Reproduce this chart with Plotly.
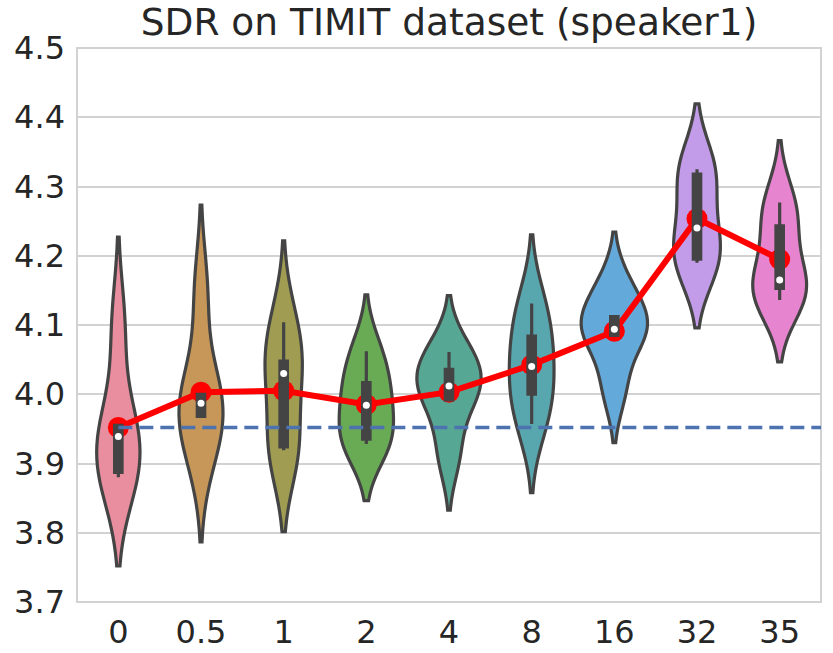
import colorsys
import numpy as np
import plotly.graph_objects as go

# ---------------- data (SDR per run, 5 runs per setting) ----------------
categories = ["0", "0.5", "1", "2", "4", "8", "16", "32", "35"]

sdr_0 = [3.880, 3.887, 3.939, 3.955, 4.099]
sdr_0_5 = [3.913, 3.968, 3.987, 4.000, 4.147]
sdr_1 = [3.919, 3.924, 4.030, 4.048, 4.104]
sdr_2 = [3.928, 3.935, 3.984, 4.017, 4.062]
sdr_4 = [3.914, 3.992, 4.012, 4.036, 4.061]
sdr_8 = [3.957, 4.000, 4.040, 4.084, 4.131]
sdr_16 = [4.008, 4.085, 4.094, 4.112, 4.156]
sdr_32 = [4.190, 4.195, 4.240, 4.318, 4.325]
sdr_35 = [4.136, 4.153, 4.165, 4.243, 4.277]

baseline_sdr = 3.952

samples = [sdr_0, sdr_0_5, sdr_1, sdr_2, sdr_4, sdr_8, sdr_16, sdr_32, sdr_35]

# ---------------- style ----------------
husl9 = ["#f77189", "#d58c32", "#a4a031", "#50b131", "#34ae91",
         "#37abb5", "#3ba3ec", "#bb83f4", "#f564d4"]


def soften(hex_color, prop=0.75, white=0.10):
    r, g, b = (int(hex_color[i:i + 2], 16) / 255 for i in (1, 3, 5))
    h, l, s = colorsys.rgb_to_hls(r, g, b)
    r, g, b = colorsys.hls_to_rgb(h, l, s * prop)
    r, g, b = (c + (1 - c) * white for c in (r, g, b))
    return "#%02x%02x%02x" % (round(r * 255), round(g * 255), round(b * 255))


def scott_bw(vals):
    v = np.asarray(vals, dtype=float)
    return float(len(v) ** (-1 / 5) * v.std(ddof=1))


def kde_peak(vals, bw):
    v = np.asarray(vals, dtype=float)
    grid = np.linspace(v.min() - 2 * bw, v.max() + 2 * bw, 400)
    dens = np.exp(-0.5 * ((grid[:, None] - v[None, :]) / bw) ** 2).sum(1)
    return float(dens.max() / (len(v) * bw * np.sqrt(2 * np.pi)))


fills = [soften(c) for c in husl9]
DARK = "#444444"
TEXT = "#262626"
GRID = "#d2d2d2"
FONT = "DejaVu Sans"

bws = [scott_bw(v) for v in samples]
peaks = [kde_peak(v, b) for v, b in zip(samples, bws)]
# equal-area scaling (as seaborn scale="area"): widest violin gets 0.8
widths = [0.8 * p / max(peaks) for p in peaks]

fig = go.Figure()
positions = list(range(len(categories)))

for i, vals in enumerate(samples):
    fig.add_trace(go.Violin(
        y=vals, x0=positions[i], name=categories[i],
        bandwidth=bws[i], spanmode="soft", scalemode="width",
        width=widths[i], side="both", points=False,
        box_visible=False, meanline_visible=False,
        fillcolor=fills[i], opacity=1,
        line=dict(color=DARK, width=3.2),
        showlegend=False, hoverinfo="skip", zorder=0,
    ))

# mean line (red)
fig.add_trace(go.Scatter(
    x=positions, y=[float(np.mean(v)) for v in samples], mode="lines+markers",
    line=dict(color="#ff0000", width=6),
    marker=dict(color="#ff0000", size=21),
    showlegend=False, hoverinfo="skip", zorder=1,
))

# inner boxes
for i, vals in enumerate(samples):
    fig.add_trace(go.Box(
        y=vals, x0=positions[i], width=0.09, whiskerwidth=0,
        boxpoints="outliers", marker=dict(size=0.1, opacity=0),
        quartilemethod="inclusive",
        fillcolor=DARK, line=dict(color=DARK, width=3.2),
        showlegend=False, hoverinfo="skip", zorder=2,
    ))

# medians (white dots)
fig.add_trace(go.Scatter(
    x=positions, y=[float(np.median(v)) for v in samples], mode="markers",
    marker=dict(color="white", size=7),
    showlegend=False, hoverinfo="skip", zorder=3,
))

# baseline dashed line
fig.add_trace(go.Scatter(
    x=[positions[0], positions[-1] + 0.5], y=[baseline_sdr, baseline_sdr],
    mode="lines", line=dict(color="#4c72b0", width=3.5, dash="14px,7px"),
    showlegend=False, hoverinfo="skip", zorder=4,
))

fig.update_layout(
    width=833, height=653,
    margin=dict(l=77, r=12, t=48, b=51, autoexpand=False),
    paper_bgcolor="white", plot_bgcolor="white",
    font=dict(family=FONT, color=TEXT, size=32),
    violinmode="overlay", boxmode="overlay",
    title=dict(text="SDR on TIMIT dataset (speaker1)", x=0.5, xanchor="center",
               xref="paper", yref="container", y=1 - 22 / 653, yanchor="middle",
               font=dict(family=FONT, size=37.5, color=TEXT)),
    shapes=[dict(type="rect", xref="paper", yref="paper", x0=0, x1=1, y0=0, y1=1,
                 line=dict(color=GRID, width=2), layer="below")],
)
fig.update_xaxes(
    range=[-0.5, 8.5], tickmode="array", tickvals=positions, ticktext=categories,
    showgrid=False, zeroline=False, showline=False, automargin=False,
    ticks="", ticklabelstandoff=8,
    tickfont=dict(size=32, color=TEXT, family=FONT),
)
fig.update_yaxes(
    range=[3.7, 4.5], tickmode="array",
    tickvals=[3.7, 3.8, 3.9, 4.0, 4.1, 4.2, 4.3, 4.4, 4.5],
    ticktext=["3.7", "3.8", "3.9", "4.0", "4.1", "4.2", "4.3", "4.4", "4.5"],
    showgrid=True, gridcolor=GRID, gridwidth=2, zeroline=False,
    showline=False, automargin=False, ticks="", ticklabelstandoff=11,
    tickfont=dict(size=32, color=TEXT, family=FONT),
)

fig.write_html("out.html")
